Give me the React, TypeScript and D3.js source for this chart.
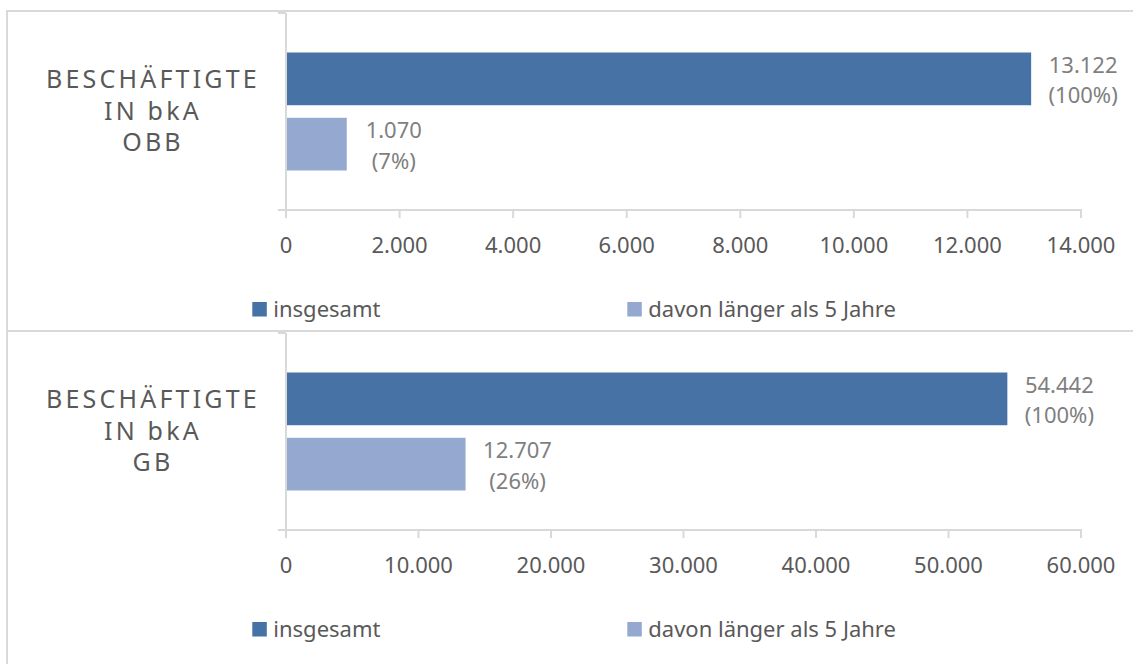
import React from "react";
import * as d3 from "d3";

const seriesNames = ["insgesamt", "davon länger als 5 Jahre"];
const panelCategories = [
  ["BESCHÄFTIGTE", "IN bkA", "OBB"],
  ["BESCHÄFTIGTE", "IN bkA", "GB"],
];
// bar lengths as drawn in the picture
const obbValues = [13122, 1070];
const obbLabels = ["13.122", "1.070"];
const obbPercents = ["100%", "7%"];
const gbValues = [54442, 13550];
const gbLabels = ["54.442", "12.707"];
const gbPercents = ["100%", "26%"];
const obbTicks = [0, 2000, 4000, 6000, 8000, 10000, 12000, 14000];
const gbTicks = [0, 10000, 20000, 30000, 40000, 50000, 60000];

const COLORS = ["#4672a6", "#95a9d0"];
const GRID = "#d9d9d9";
const FONT = "'Noto Sans', sans-serif";

const fmt = (v: number) => d3.format(",")(v).replace(/,/g, ".");

type PanelProps = {
  dy: number;
  category: string[];
  values: number[];
  labels: string[];
  percents: string[];
  ticks: number[];
};

function Panel({ dy, category, values, labels, percents, ticks }: PanelProps) {
  const axisTop = 13;
  const axisY = 210;
  const x = d3
    .scaleLinear()
    .domain([0, ticks[ticks.length - 1]])
    .range([286, 1081]);
  const center = (axisTop + axisY) / 2;
  const y = d3
    .scaleBand<string>()
    .domain(seriesNames)
    .range([center - 59, center + 59])
    .paddingInner(0.192);

  return (
    <g transform={`translate(0,${dy})`}>
      {/* category label */}
      <text
        fontFamily={FONT}
        fontSize={25}
        fill="#595959"
        letterSpacing={3.2}
        textAnchor="middle"
      >
        {category.map((c, i) => (
          <tspan key={i} x={153} y={88 + i * 31.7}>
            {c}
          </tspan>
        ))}
      </text>
      {/* bars */}
      {values.map((v, i) => (
        <rect
          key={i}
          x={x(0)}
          y={y(seriesNames[i])}
          width={x(v) - x(0)}
          height={y.bandwidth()}
          fill={COLORS[i]}
        />
      ))}
      {/* value labels */}
      {values.map((v, i) => {
        const cy = (y(seriesNames[i]) as number) + y.bandwidth() / 2;
        const lx = x(v) + (labels[i].length >= 6 ? 52 : 47);
        return (
          <text
            key={i}
            fontFamily={FONT}
            fontSize={22}
            fill="#7f7f7f"
            textAnchor="middle"
          >
            <tspan x={lx} y={cy - 6}>
              {labels[i]}
            </tspan>
            <tspan x={lx} y={cy + 24.5}>
              ({percents[i]})
            </tspan>
          </text>
        );
      })}
      {/* y axis */}
      <line x1={286} x2={286} y1={axisTop} y2={axisY} stroke={GRID} strokeWidth={2} />
      <line x1={278} x2={286} y1={axisTop} y2={axisTop} stroke={GRID} strokeWidth={2} />
      {/* x axis */}
      <line x1={278} x2={1082} y1={axisY} y2={axisY} stroke={GRID} strokeWidth={2} />
      {ticks.map((t) => (
        <g key={t}>
          <line x1={x(t)} x2={x(t)} y1={axisY} y2={axisY + 8} stroke={GRID} strokeWidth={2} />
          <text
            x={x(t)}
            y={axisY + 43}
            fontFamily={FONT}
            fontSize={22}
            fill="#595959"
            textAnchor="middle"
          >
            {fmt(t)}
          </text>
        </g>
      ))}
      {/* legend */}
      {seriesNames.map((s, i) => {
        const lx = i === 0 ? 252.3 : 627.3;
        return (
          <g key={s}>
            <rect x={lx} y={axisY + 92} width={14.5} height={14.5} fill={COLORS[i]} />
            <text
              x={lx + 21}
              y={axisY + 106.5}
              fontFamily={FONT}
              fontSize={22}
              fill="#595959"
            >
              {s}
            </text>
          </g>
        );
      })}
    </g>
  );
}

export default function App() {
  return (
    <svg
      width={1133}
      height={664}
      style={{ position: "absolute", left: 0, top: 0, background: "#fff" }}
    >
      <rect x={0} y={0} width={1133} height={664} fill="#fff" />
      {/* frame lines */}
      <line x1={7} x2={7} y1={10} y2={664} stroke={GRID} strokeWidth={2} />
      <line x1={6} x2={1133} y1={11} y2={11} stroke={GRID} strokeWidth={2} />
      <line x1={6} x2={1133} y1={331} y2={331} stroke={GRID} strokeWidth={2} />
      <Panel
        dy={0}
        category={panelCategories[0]}
        values={obbValues}
        labels={obbLabels}
        percents={obbPercents}
        ticks={obbTicks}
      />
      <Panel
        dy={320}
        category={panelCategories[1]}
        values={gbValues}
        labels={gbLabels}
        percents={gbPercents}
        ticks={gbTicks}
      />
    </svg>
  );
}
